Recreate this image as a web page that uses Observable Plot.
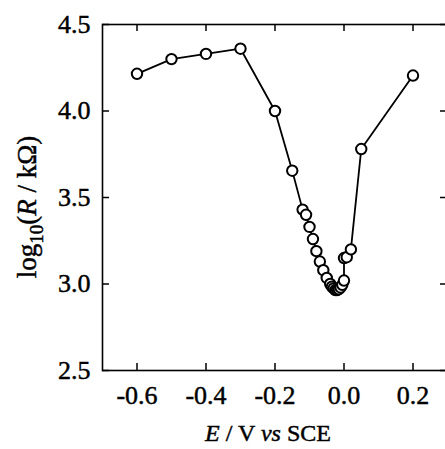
<!DOCTYPE html>
<html>
<head>
<meta charset="utf-8">
<script src="https://cdn.jsdelivr.net/npm/d3@7"></script>
<script src="https://cdn.jsdelivr.net/npm/@observablehq/plot@0.6"></script>
<style>
  html, body { margin: 0; padding: 0; background: #fff; }
  #chart { width: 445px; height: 449px; overflow: hidden; }
  #chart svg text { stroke: #000; stroke-width: 0.45px; }
</style>
</head>
<body>
<div id="chart"></div>
<script>
// Potential E (V vs SCE)
const potential = [-0.6, -0.5, -0.4, -0.3, -0.2, -0.15, -0.12, -0.11, -0.1, -0.09, -0.08, -0.07, -0.06, -0.05, -0.04, -0.035, -0.03, -0.025, -0.02, -0.015, -0.01, -0.005, 0.0, 0.0, 0.008, 0.02, 0.05, 0.2];
// log10(R / kOhm)
const logR = [4.215, 4.30, 4.33, 4.36, 4.00, 3.655, 3.43, 3.40, 3.33, 3.26, 3.19, 3.13, 3.08, 3.035, 3.00, 2.985, 2.975, 2.965, 2.965, 2.97, 2.98, 2.995, 3.02, 3.15, 3.155, 3.20, 3.78, 4.205];

const xTicks = [-0.6, -0.4, -0.2, 0.0, 0.2];
const yTicks = [2.5, 3.0, 3.5, 4.0, 4.5];
const xDomain = [-0.7, 0.3];
const yDomain = [2.5, 4.5];

const data = potential.map((e, i) => ({E: e, R: logR[i]}));

const W = 445, H = 449;
const mL = 102, mR = -2, mT = 24, mB = 79;
const innerW = W - mL - mR, innerH = H - mT - mB;
const tickLen = 7;
const font = "Liberation Serif, Times New Roman, serif";

const chart = Plot.plot({
  width: W,
  height: H,
  marginLeft: mL,
  marginRight: mR,
  marginTop: mT,
  marginBottom: mB,
  style: {fontFamily: font, background: "#fff", color: "#000", overflow: "visible"},
  x: {domain: xDomain},
  y: {domain: yDomain},
  marks: [
    Plot.frame({stroke: "#000", strokeWidth: 1.6}),
    // inward ticks on all four sides
    Plot.ruleX(xTicks, {x: d => d, insetTop: innerH - tickLen, stroke: "#000", strokeWidth: 1.5}),
    Plot.ruleX(xTicks, {x: d => d, insetBottom: innerH - tickLen, stroke: "#000", strokeWidth: 1.5}),
    Plot.ruleY(yTicks, {y: d => d, insetRight: innerW - tickLen, stroke: "#000", strokeWidth: 1.5}),
    Plot.ruleY(yTicks, {y: d => d, insetLeft: innerW - tickLen, stroke: "#000", strokeWidth: 1.5}),
    Plot.axisX(xTicks, {tickSize: 0, tickPadding: 15, tickFormat: d => d.toFixed(1), fontSize: 26, label: null, fill: "#000"}),
    Plot.axisY(yTicks, {tickSize: 0, tickPadding: 12, tickFormat: d => d.toFixed(1), fontSize: 26, label: null, fill: "#000"}),
    Plot.line(data, {x: "E", y: "R", stroke: "#000", strokeWidth: 1.8}),
    Plot.dot(data, {x: "E", y: "R", r: 5.2, fill: "#fff", stroke: "#000", strokeWidth: 2})
  ]
});

document.getElementById("chart").appendChild(chart);

const svg = d3.select(chart);
// y-axis title
const yl = svg.append("text")
  .attr("transform", `translate(36, ${mT + innerH / 2 + 10}) rotate(-90)`)
  .attr("text-anchor", "middle")
  .attr("font-family", font)
  .attr("font-size", 27)
  .attr("fill", "#000");
yl.append("tspan").text("log");
yl.append("tspan").attr("font-size", 19).attr("dy", 7).text("10");
yl.append("tspan").attr("dy", -7).text("(");
yl.append("tspan").attr("font-style", "italic").text("R");
yl.append("tspan").text(" / kΩ)");

// x-axis title
const xl = svg.append("text")
  .attr("x", 268)
  .attr("y", 441)
  .attr("text-anchor", "middle")
  .attr("font-family", font)
  .attr("font-size", 24)
  .attr("fill", "#000");
xl.append("tspan").attr("font-style", "italic").text("E");
xl.append("tspan").text(" / V ");
xl.append("tspan").attr("font-style", "italic").text("vs");
xl.append("tspan").text(" SCE");
</script>
</body>
</html>
